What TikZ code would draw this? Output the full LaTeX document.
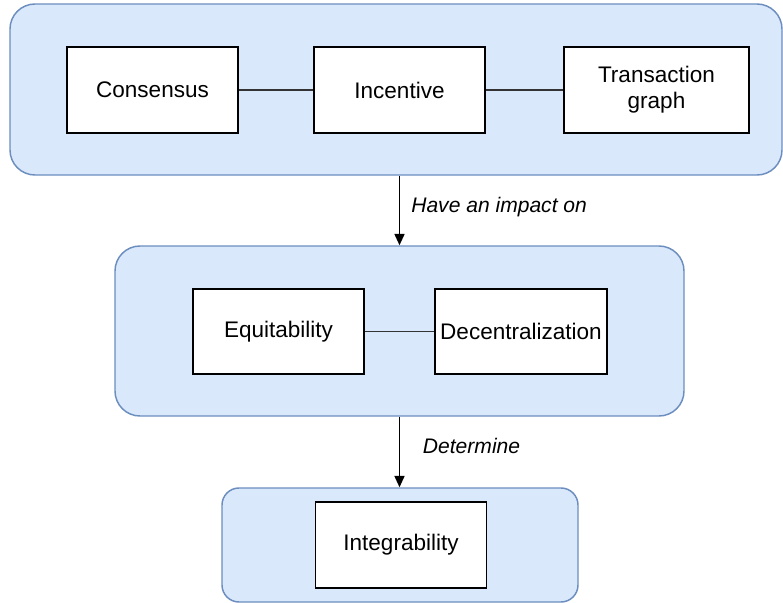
\documentclass[tikz,border=0pt]{standalone}
\usepackage{fontspec}
\setmainfont{Liberation Sans}
\usetikzlibrary{arrows.meta,positioning}

\definecolor{fondbleu}{HTML}{DAE8FC}
\definecolor{bordbleu}{HTML}{6C8EBF}

\tikzset{Cadre/.style={draw=bordbleu,fill=fondbleu,line width=1.1pt,rectangle,inner sep=0pt,rounded corners=18.75pt}}
\tikzset{Boite/.style={draw,black,fill=white,line width=1.3pt,minimum width=128.25pt,minimum height=64.5pt,inner sep=0pt,rectangle,align=center,font=\fontsize{16.9}{19.5}\selectfont}}
\tikzset{Lien/.style={draw=black!80,line width=1.3pt}}
\tikzset{Fleche/.style={-{Triangle[width=7.5pt,length=8.5pt]},black,line width=1.2pt}}
\tikzset{Texte/.style={font=\fontsize{15.8}{18}\selectfont\itshape,inner sep=0pt}}

\begin{document}
\begin{tikzpicture}[x=0.75pt,y=-0.75pt]
\useasboundingbox (0,0) rectangle (783,603);

% les trois cadres
\node[Cadre,minimum width=579pt,minimum height=128.25pt] (H) at (396,89.5) {};
\node[Cadre,minimum width=426.75pt,minimum height=127.5pt] (M) at (399.5,331) {};
\node[Cadre,minimum width=267pt,minimum height=85.5pt,rounded corners=12.75pt] (B) at (400,545) {};

% cadre du haut
\node[Boite] (C) at (152.5,90) {Consensus};
\node[Boite] (I) at (399.5,90) {Incentive};
\node[Boite,minimum width=139pt] (T) at (656.5,90) {Transaction\\graph};
\draw[Lien] (C) -- (I);
\draw[Lien] (I) -- (T);

% cadre du milieu
\node[Boite,minimum height=63.75pt] (E) at (278.5,331.5) {Equitability};
\node[Boite,minimum height=63.75pt,minimum width=129pt] (D) at (521,331.5) {Decentralization};
\draw[Lien] (E) -- (D);

% cadre du bas
\node[Boite] (G) at (401,545) {Integrability};

\draw[Fleche] (H.south -| M.north) -- node[Texte,right=8.25pt,pos=0.45] {Have an impact on} (M.north);
\draw[Fleche] (M.south) -- node[Texte,right=17pt,pos=0.42] {Determine} (M.south |- B.north);

\end{tikzpicture}
\end{document}
